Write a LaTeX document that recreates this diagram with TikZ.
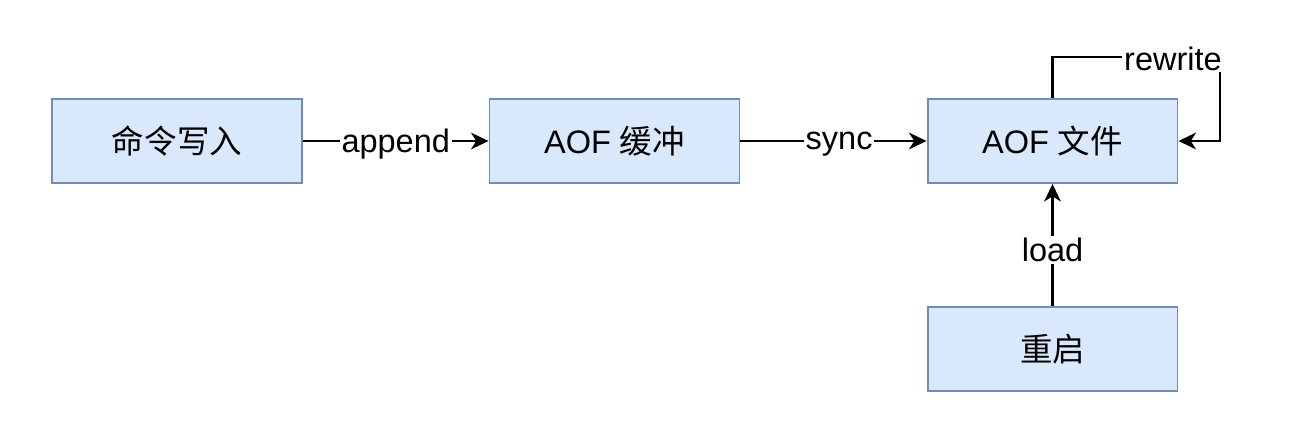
\documentclass[tikz,border=0pt]{standalone}
\usepackage{fontspec}
\setmainfont{Liberation Sans}
\newfontfamily\cjk{Noto Sans CJK SC}
\usetikzlibrary{arrows.meta}
\definecolor{boxfill}{HTML}{DAE8FC}
\definecolor{boxline}{HTML}{6C8EBF}
\tikzset{
  px/.style={x=0.02cm,y=-0.02cm},
  box/.style={draw=boxline, fill=boxfill, line width=1.1pt, minimum width=5cm, minimum height=1.68cm, inner sep=0pt, font=\fontsize{18.5}{22}\selectfont},
  conn/.style={line width=1.2pt, -{Stealth[length=10pt,width=9.5pt,inset=3pt]}},
  lbl/.style={fill=white, inner sep=1pt, yshift=-1.5pt, font=\fontsize{18.5}{22}\selectfont}
}
\begin{document}
\begin{tikzpicture}[px]
\useasboundingbox (0,0) rectangle (1302,422);
\node[box] (cmd) at (177,141) {\cjk 命令写入};
\node[box] (buf) at (614.5,141) {AOF {\cjk 缓冲}};
\node[box] (file) at (1052.5,141) {AOF {\cjk 文件}};
\node[box] (restart) at (1052.5,349) {\cjk 重启};
\draw[conn] (cmd) -- node[lbl] {append} (buf);
\draw[conn] (buf) -- node[lbl,pos=0.53] {sync} (file);
\draw[conn] (restart) -- node[lbl,pos=0.48] {load} (file);
\coordinate (c1) at (1052.5,57);
\coordinate (c2) at (1220,57);
\coordinate (c3) at (1220,141);
\draw[conn] (file.north) -- (c1) -- (c2) -- (c3) -- (file.east);
\node[lbl] (rw) at (1173,56) {rewrite};
\end{tikzpicture}
\end{document}
